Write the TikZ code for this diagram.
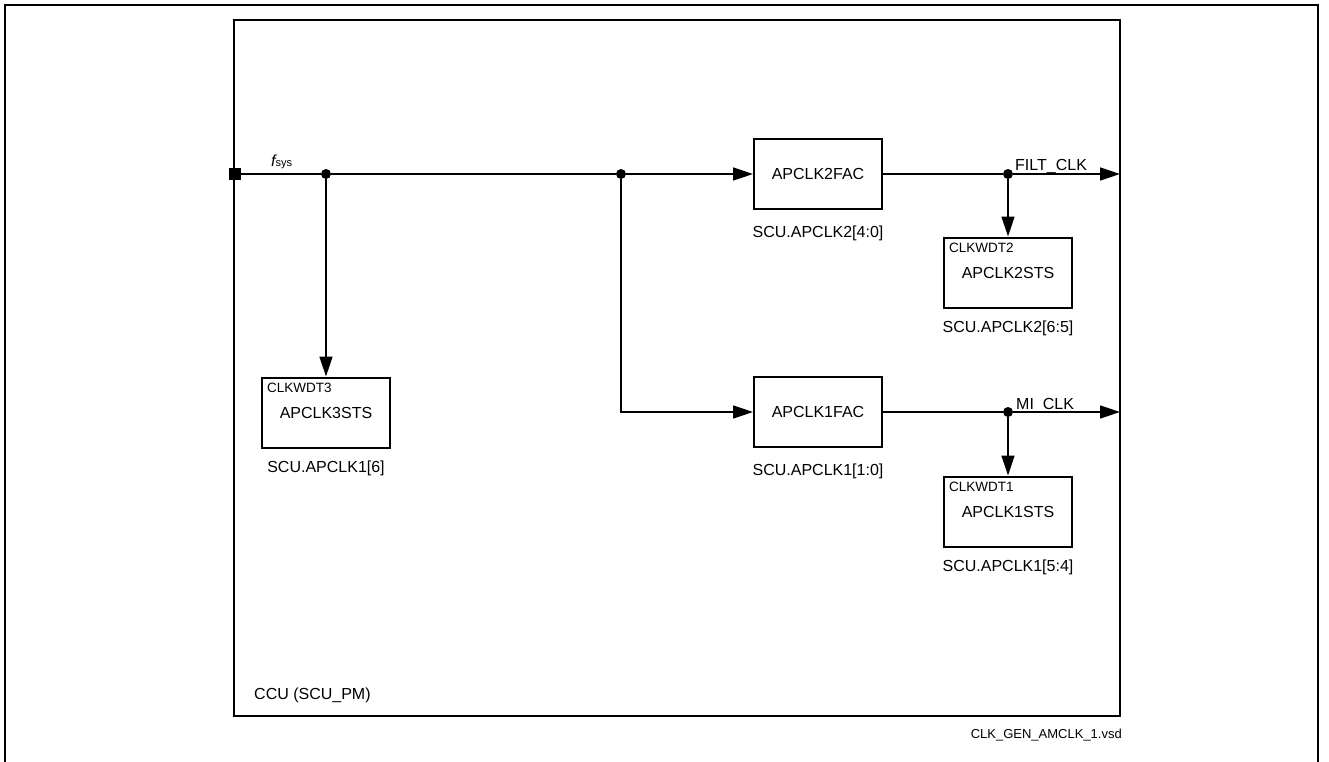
\documentclass[tikz,border=0pt]{standalone}
\usepackage{fontspec}
\setmainfont{Liberation Sans}
\usetikzlibrary{arrows.meta,positioning}

\begin{document}
\begin{tikzpicture}[x=1pt, y=-1pt,
	lbl/.style={font=\fontsize{16}{19}\selectfont, inner sep=0pt},
	tiny/.style={font=\fontsize{13.5}{16}\selectfont, inner sep=0pt, anchor=base west},
	blk/.style={draw, line width=2pt, minimum width=128pt, minimum height=70pt, inner sep=0pt, font=\fontsize{16}{19}\selectfont},
	dot/.style={fill, circle, inner sep=0pt, minimum size=10pt},
	port/.style={fill, rectangle, inner sep=0pt, minimum size=12pt},
	wire/.style={line width=1.5pt},
	sig/.style={wire, -{Triangle[length=20pt, width=13pt]}}
	]
	
	\useasboundingbox (0,0) rectangle (1329,762);
	
	% ---- Page frame ----
	\draw[line width=1.2pt] (5,762) -- (5,5) -- (1318,5) -- (1318,762);
	
	% ---- CCU frame ----
	\node[draw, line width=2.5pt, outer sep=0pt, minimum width=886pt, minimum height=696pt] (ccu) at (677,368) {};
	\node[lbl, anchor=base west] (ccutxt) at (254,699) {CCU (SCU\_PM)};
	
	% ---- Input port and branch points ----
	\node[port] (in) at (235,174) {};
	\node[anchor=base west, inner sep=0pt] (fsys) at (271,167) {{\fontsize{16}{19}\selectfont\itshape f}{\fontsize{11}{13}\selectfont sys}};
	\node[dot] (dA) at (326,174) {};
	\node[dot] (dB) at (621,174) {};
	\node[dot] (dC) at (1008,174) {};
	\node[dot] (dD) at (1008,412) {};
	
	% ---- Divider boxes ----
	\foreach \name/\y/\txt/\reg in {
		fac2/174/APCLK2FAC/{SCU.APCLK2[4:0]},
		fac1/412/APCLK1FAC/{SCU.APCLK1[1:0]}
	}
	{
		\node[blk] (\name) at (818,\y) {\txt};
		\node[lbl, anchor=base] (\name-reg) at (818,\y+63) {\reg};
	}
	
	% ---- Status boxes ----
	\foreach \name/\x/\y/\wdt/\txt/\reg in {
		sts2/1008/272.5/CLKWDT2/APCLK2STS/{SCU.APCLK2[6:5]},
		sts1/1008/511.5/CLKWDT1/APCLK1STS/{SCU.APCLK1[5:4]},
		sts3/326/412.5/CLKWDT3/APCLK3STS/{SCU.APCLK1[6]}
	}
	{
		\node[blk] (\name) at (\x,\y) {\txt};
		\node[tiny] (\name-wdt) at ([shift={(6,15.5)}]\name.north west) {\wdt};
		\node[lbl, anchor=base] (\name-reg) at (\x,\y+60) {\reg};
	}
	
	% ---- Outputs ----
	\coordinate (filtout) at (ccu.east |- dC);
	\coordinate (miout) at (ccu.east |- dD);
	\node[lbl, anchor=base west] (filt) at (1015,171) {FILT\_CLK};
	\node[lbl, anchor=base west] (mi) at (1016,409) {MI\_CLK};
	
	% ---- Connectors ----
	\draw[wire] (in) -- (dA);
	\draw[wire] (dA) -- (dB);
	\draw[sig] (dB) -- (fac2);
	\draw[sig] (dA) -- (sts3);
	\draw[sig] (dB) |- (fac1);
	\draw[wire] (fac2) -- (dC);
	\draw[sig] (dC) -- (filtout);
	\draw[sig] (dC) -- (sts2);
	\draw[wire] (fac1) -- (dD);
	\draw[sig] (dD) -- (miout);
	\draw[sig] (dD) -- (sts1);
	
	% ---- File name ----
	\node[font=\fontsize{13}{15}\selectfont, inner sep=0pt, anchor=base east] (file) at (1122,738) {CLK\_GEN\_AMCLK\_1.vsd};
	
\end{tikzpicture}
\end{document}
